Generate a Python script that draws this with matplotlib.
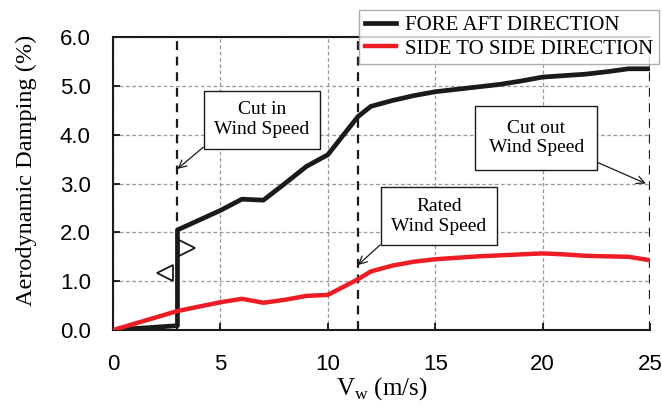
import matplotlib.pyplot as plt

# wind speed (m/s) and damping (%)
ws_fa = [0, 1, 2, 3, 3, 4, 5, 6, 7, 8, 9, 10, 11.4, 12, 13, 14, 15, 16, 17, 18, 19, 20, 21, 22, 23, 24, 25]
damp_fa = [0.0, 0.03, 0.06, 0.09, 2.05, 2.25, 2.45, 2.68, 2.66, 3.0, 3.35, 3.59, 4.37, 4.58, 4.7, 4.8,
           4.88, 4.93, 4.98, 5.03, 5.1, 5.18, 5.21, 5.24, 5.29, 5.35, 5.35]

ws_ss = [0, 3, 5, 6, 7, 8, 9, 10, 11.4, 12, 13, 14, 15, 16, 17, 18, 19, 20, 21, 22, 23, 24, 25]
damp_ss = [0.0, 0.39, 0.57, 0.64, 0.56, 0.62, 0.7, 0.72, 1.04, 1.2, 1.32, 1.4, 1.45, 1.48, 1.51, 1.53,
           1.55, 1.57, 1.55, 1.52, 1.51, 1.5, 1.43]

plt.rcParams['font.family'] = ['Liberation Serif']

fig = plt.figure(figsize=(6.62, 4.07), dpi=100)
ax = fig.add_axes([0.1707, 0.189, 0.8113, 0.72])

ax.plot(ws_fa, damp_fa, color='#1a1a1a', lw=3.4, label='FORE AFT DIRECTION', zorder=4)
ax.plot(ws_ss, damp_ss, color='#ee1c25', lw=3.2, label='SIDE TO SIDE DIRECTION', zorder=4)

# cut in / rated / cut out lines
for xv in [3, 11.4, 25]:
    ax.axvline(xv, color='#1a1a1a', ls=(0, (4, 3)), lw=1.6, zorder=3)

ax.set_xlim(0, 25)
ax.set_ylim(0, 6)
ax.set_xticks([0, 5, 10, 15, 20, 25])
ax.set_yticks([0, 1, 2, 3, 4, 5, 6])
ax.set_yticklabels(['%.1f' % v for v in range(7)])
ax.grid(True, color='#999999', ls=(0, (3, 2)), lw=0.9)
ax.tick_params(direction='in', length=5, width=1.2, labelsize=16)
ax.tick_params(axis='x', pad=17)
ax.tick_params(axis='y', pad=16)
for lab in ax.get_xticklabels() + ax.get_yticklabels():
    lab.set_family('Liberation Sans')
ax.spines['right'].set_visible(False)
for s in ['left', 'bottom', 'top']:
    ax.spines[s].set_linewidth(1.5)
    ax.spines[s].set_color('#1a1a1a')

ax.set_xlabel(r'V$_\mathregular{w}$ (m/s)', fontsize=18, labelpad=0)
ax.set_ylabel('Aerodynamic Damping (%)', fontsize=17.5)
ax.yaxis.set_label_coords(-0.142, 0.545)

# hollow triangles near the jump
ax.plot([3.45], [1.69], marker='>', ms=11, mfc='white', mec='#1a1a1a', mew=1.3, zorder=5)
ax.plot([2.4], [1.17], marker='<', ms=11, mfc='white', mec='#1a1a1a', mew=1.3, zorder=5)

box = dict(boxstyle='square,pad=0.55', fc='white', ec='#1a1a1a', lw=1.0)
arr = dict(arrowstyle='->', color='#1a1a1a', lw=0.9, shrinkA=0, shrinkB=0)
ax.annotate('Cut in\nWind Speed', xy=(3.0, 3.3), xytext=(6.94, 4.31), ha='center', va='center',
            fontsize=14, bbox=box, arrowprops=dict(arr, relpos=(0, 0)), zorder=6)
ax.annotate('Cut out\nWind Speed', xy=(24.8, 3.0), xytext=(19.7, 3.93), ha='center', va='center',
            fontsize=14, bbox=dict(box, boxstyle='square,pad=0.7'),
            arrowprops=dict(arr, relpos=(1, 0)), zorder=6)
ax.annotate('Rated\nWind Speed', xy=(11.4, 1.33), xytext=(15.18, 2.33), ha='center', va='center',
            fontsize=14, bbox=box, arrowprops=dict(arr, relpos=(0, 0)), zorder=6)

leg = fig.legend(loc='upper left', bbox_to_anchor=(0.543, 0.975), fontsize=15, frameon=True,
                 fancybox=False, handlelength=1.5, borderpad=0.25, labelspacing=0.2,
                 handletextpad=0.45, borderaxespad=0)
leg.get_frame().set_edgecolor('#999999')
leg.get_frame().set_linewidth(1.0)

fig.savefig('out.png', dpi=100)
